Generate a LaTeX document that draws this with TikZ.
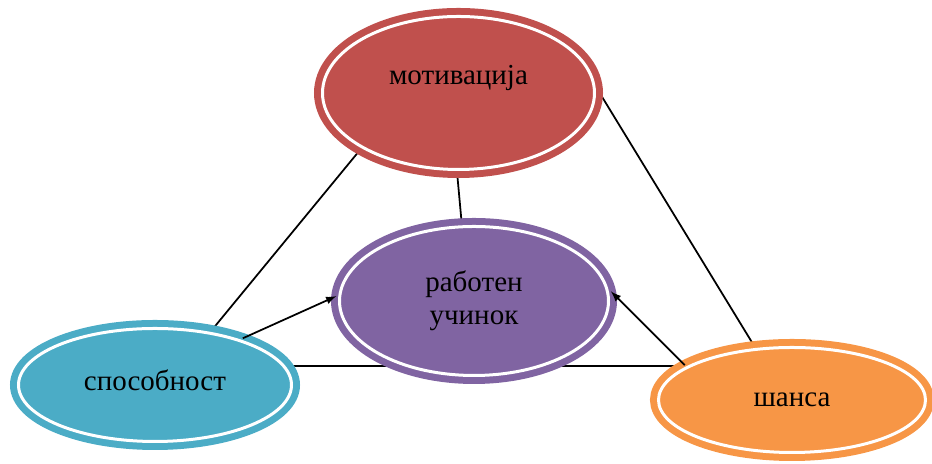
\documentclass[tikz,border=0pt]{standalone}
\usepackage{fontspec}
\setmainfont{Liberation Serif}
\usepackage{tikz}
\usetikzlibrary{shapes,arrows,positioning,backgrounds,calc}
\definecolor{motcol}{RGB}{192,80,77}
\definecolor{rabcol}{RGB}{128,100,162}
\definecolor{spocol}{RGB}{75,172,198}
\definecolor{shacol}{RGB}{247,150,70}
\tikzstyle{bubble} = [ellipse, line width=1.4mm, double=white, double distance=0.6mm,
                      text=black, font=\fontsize{16.5}{19}\selectfont, align=center]
\tikzstyle{link} = [line width=1pt, black]
\tikzstyle{arrow} = [line width=1pt, black, -latex]

\begin{document}
\begin{tikzpicture}
                \useasboundingbox (0,0) rectangle (18.64,9.28);
                % four ellipses
                \node[bubble, draw=motcol, fill=motcol, minimum width=5.44cm, minimum height=3.06cm, text depth=0.72cm] (mot) at (9.17,7.42) {мотивација};
                \node[bubble, draw=rabcol, fill=rabcol, minimum width=5.38cm, minimum height=2.98cm] (rab) at (9.48,3.26) {работен\\учинок};
                \node[bubble, draw=spocol, fill=spocol, minimum width=5.46cm, minimum height=2.26cm, text depth=0.2cm] (spo) at (3.10,1.58) {способност};
                \node[bubble, draw=shacol, fill=shacol, minimum width=5.34cm, minimum height=2.10cm] (sha) at (15.84,1.28) {шанса};

                % triangle and links to the centre
                \begin{scope}[on background layer]
                \draw[link] (mot.210) -- (spo.44);
                \draw[link] (mot.23) -- (sha.125);
                \draw[link] (spo.8) -- (spo.8 -| sha.center);
                \draw[link] (mot.269) -- (rab.99);
                \end{scope}
                \draw[arrow] (spo.28) -- (rab.178);
                \draw[arrow] (sha.162) -- (rab.4);
            \end{tikzpicture}
\end{document}
